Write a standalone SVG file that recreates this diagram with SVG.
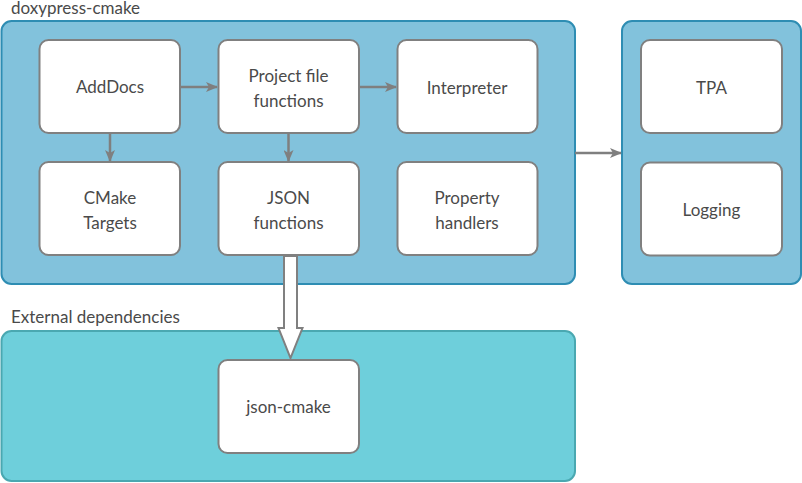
<svg xmlns="http://www.w3.org/2000/svg" width="802" height="483" viewBox="0 0 802 483">
<defs>
<style>
.cont{fill:#82c2dc;stroke:#2e8db3;stroke-width:2}
.ext{fill:#6ecfdb;stroke:#4aa8b1;stroke-width:2}
.node{fill:#ffffff;stroke:#808080;stroke-width:2}
.lbl{font-family:Lato,"Liberation Sans",sans-serif;font-size:17px;fill:#4a4a4a;text-anchor:middle}
.title{font-family:Lato,"Liberation Sans",sans-serif;font-size:17px;fill:#4a4a4a}
.edge{fill:none;stroke:#7f7f7f;stroke-width:2.5}
</style>
<marker id="ah" viewBox="0 0 12 10" refX="11" refY="5" markerWidth="12" markerHeight="10" markerUnits="userSpaceOnUse" orient="auto">
<path d="M0,0 L12,5 L0,10 L3,5 Z" fill="#7f7f7f"/>
</marker>
</defs>
<rect width="802" height="483" fill="#ffffff"/>
<g id="doxypress-cmake">
<rect class="cont" x="1.5" y="21" width="573.5" height="263" rx="10"/>
<text class="title" x="11" y="13.5">doxypress-cmake</text>
</g>
<g id="right-group">
<rect class="cont" x="622" y="21" width="179" height="263" rx="10"/>
</g>
<g id="external-dependencies">
<rect class="ext" x="1.5" y="331" width="573.5" height="150" rx="10"/>
<text class="title" x="11" y="322.5">External dependencies</text>
</g>
<g id="adddocs"><rect class="node" x="39.5" y="40" width="140.5" height="93" rx="9"/><text class="lbl" x="110" y="93">AddDocs</text></g>
<g id="project-file-functions"><rect class="node" x="218.5" y="40" width="140.5" height="93" rx="9"/><text class="lbl" x="288.5" y="81.5">Project file</text><text class="lbl" x="288.5" y="106.5">functions</text></g>
<g id="interpreter"><rect class="node" x="397.5" y="40" width="140" height="93" rx="9"/><text class="lbl" x="467" y="94">Interpreter</text></g>
<g id="cmake-targets"><rect class="node" x="39.5" y="162" width="140.5" height="93" rx="9"/><text class="lbl" x="110" y="203.5">CMake</text><text class="lbl" x="110" y="228.5">Targets</text></g>
<g id="json-functions"><rect class="node" x="218.5" y="162" width="140.5" height="93" rx="9"/><text class="lbl" x="288.5" y="203.5">JSON</text><text class="lbl" x="288.5" y="228.5">functions</text></g>
<g id="property-handlers"><rect class="node" x="397.5" y="162" width="140" height="93" rx="9"/><text class="lbl" x="467" y="203.5">Property</text><text class="lbl" x="467" y="228.5">handlers</text></g>
<g id="tpa"><rect class="node" x="641" y="40" width="141" height="93" rx="9"/><text class="lbl" x="711.5" y="94">TPA</text></g>
<g id="logging"><rect class="node" x="641" y="162.5" width="141" height="93" rx="9"/><text class="lbl" x="711.5" y="216">Logging</text></g>
<g id="json-cmake"><rect class="node" x="218.5" y="360" width="140.5" height="93" rx="9"/><text class="lbl" x="288.5" y="413">json-cmake</text></g>
<g id="connectors">
<line class="edge" x1="180" y1="87" x2="217" y2="87" marker-end="url(#ah)"/>
<line class="edge" x1="359" y1="87" x2="396" y2="87" marker-end="url(#ah)"/>
<line class="edge" x1="110" y1="133" x2="110" y2="161" marker-end="url(#ah)"/>
<line class="edge" x1="288.5" y1="133" x2="288.5" y2="161" marker-end="url(#ah)"/>
<line class="edge" x1="575" y1="153" x2="621" y2="153" marker-end="url(#ah)"/>
<path d="M284,256 L297,256 L297,328 L302.5,328 L290.5,358 L278.5,328 L284,328 Z" fill="#ffffff" stroke="#808080" stroke-width="2" stroke-linejoin="miter"/>
</g>
</svg>
